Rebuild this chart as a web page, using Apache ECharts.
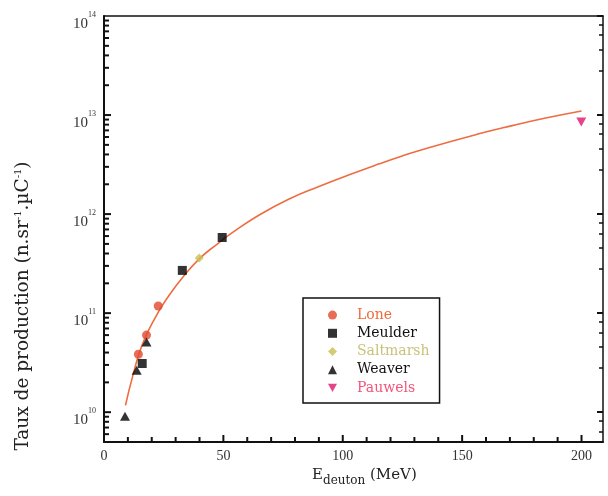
<!DOCTYPE html>
<html><head><meta charset="utf-8">
<script src="https://cdn.jsdelivr.net/npm/echarts@6/dist/echarts.min.js"></script>
<style>html,body{margin:0;padding:0;background:#fff}#c{width:608px;height:496px}</style>
</head><body><div id="c"></div>
<script>
// ---- data ----
const curveE    = [9, 12, 16, 22, 27, 33, 40, 47, 53, 65, 78, 90, 103, 115, 124, 136, 157, 171, 185, 200];
const curveRate = [1.17e10, 2.3e10, 4.8e10, 9.5e10, 1.48e11, 2.3e11, 3.55e11, 4.9e11, 6.3e11, 9.8e11, 1.44e12, 1.9e12, 2.51e12, 3.2e12, 3.8e12, 4.68e12, 6.46e12, 7.82e12, 9.33e12, 1.10e13];
const loneE = [14.4, 17.8, 22.7];
const loneRate = [3.85e10, 6.0e10, 1.18e11];
const meulderE = [16, 32.8, 49.5];
const meulderRate = [3.1e10, 2.7e11, 5.8e11];
const saltE = [39.9];
const saltRate = [3.6e11];
const weaverE = [8.8, 13.7, 17.8];
const weaverRate = [9.1e9, 2.65e10, 5.1e10];
const pauwelsE = [199.9];
const pauwelsRate = [8.5e12];
const xTickLabels = [0, 50, 100, 150, 200];
const yDecades = [10, 11, 12, 13, 14];

const xMin = 0, xMax = 209, yMin = 5e9, yMax = 1e14;
const pair = (xs, ys) => xs.map((x, i) => [x, ys[i]]);

// tick positions for the left / bottom axes: [value, length]
const yTickVals = [];
for (let d = 9; d <= 14; d++) for (let m = 1; m <= 9; m++) { const v = m * Math.pow(10, d); if (v > yMin && v < yMax) yTickVals.push([v, m === 1 ? 7 : 5]); }
const xTickVals = [];
for (let t = 10; t <= 200; t += 10) xTickVals.push([t, t % 50 === 0 ? 7 : 5]);

const serif = '"Liberation Serif", "DejaVu Serif", serif';
const serif2 = '"DejaVu Serif", serif';
const ink = '#111';
const invTri = 'path://M0,0 L10,0 L5,9 Z';

const yLabelFmt = v => {
  const e = Math.round(Math.log10(v));
  if (Math.abs(Math.log10(v) - e) > 1e-6 || yDecades.indexOf(e) < 0) return '';
  return '{b|10}{e|' + e + '}';
};

const chart = echarts.init(document.getElementById('c'), null, {renderer: 'canvas'});
chart.setOption({
  animation: false,
  backgroundColor: '#fff',
  grid: {left: 104, right: 5, top: 16, bottom: 54, containLabel: false},
  xAxis: [{
    type: 'value', min: xMin, max: xMax, interval: 50, position: 'bottom',
    axisLine: {show: true, onZero: false, lineStyle: {color: ink, width: 2}},
    axisTick: {show: false},
    splitLine: {show: false}, minorSplitLine: {show: false},
    axisLabel: {
      show: true, margin: 7, color: '#333', fontFamily: serif, fontSize: 14,
      formatter: v => xTickLabels.indexOf(v) >= 0 ? String(v) : ''
    }
  }, {
    type: 'value', min: xMin, max: xMax, position: 'top',
    axisLine: {show: true, onZero: false, lineStyle: {color: ink, width: 1.5}},
    axisTick: {show: false}, axisLabel: {show: false}, splitLine: {show: false}
  }],
  yAxis: [{
    type: 'log', min: yMin, max: yMax, logBase: 10,
    axisLine: {show: true, onZero: false, lineStyle: {color: ink, width: 2}},
    axisTick: {show: false},
    splitLine: {show: false}, minorSplitLine: {show: false},
    axisLabel: {
      show: true, margin: 8, color: '#333', fontFamily: serif,
      padding: [6, 0, 0, 0],
      formatter: yLabelFmt,
      rich: {
        b: {fontSize: 15, lineHeight: 15, padding: [10, 0, 0, 0], fontFamily: serif, color: '#333'},
        e: {fontSize: 8, lineHeight: 9, padding: [0, 0, 9, 0], fontFamily: serif, color: '#333'}
      }
    }
  }, {
    type: 'log', min: yMin, max: yMax, logBase: 10, position: 'right',
    axisLine: {show: true, onZero: false, lineStyle: {color: ink, width: 1.5}},
    axisTick: {show: true, inside: true, length: 6, lineStyle: {color: ink, width: 2}},
    minorTick: {show: true, length: 4, lineStyle: {color: ink, width: 1.5}},
    axisLabel: {show: false}, splitLine: {show: false}, minorSplitLine: {show: false}
  }],
  legend: {
    orient: 'vertical', left: 303, top: 298,
    padding: [9, 10, 7, 25],
    borderColor: ink, borderWidth: 1.5,
    itemWidth: 9, itemHeight: 9, itemGap: 2,
    textStyle: {fontFamily: serif2, fontSize: 14, lineHeight: 16.2, padding: [0, 0, 0, 15]},
    data: [
      {name: 'Lone', icon: 'circle', textStyle: {color: '#f06a3c'}},
      {name: 'Meulder', icon: 'rect', textStyle: {color: '#111'}},
      {name: 'Saltmarsh', icon: 'diamond', textStyle: {color: '#c9c27a'}},
      {name: 'Weaver', icon: 'triangle', textStyle: {color: '#111'}},
      {name: 'Pauwels', icon: invTri, textStyle: {color: '#f2557a'}}
    ]
  },
  graphic: [{
    type: 'text', left: 312, top: 463, silent: true,
    style: {
      text: '{a|E}{s|deuton}{a| (MeV)}',
      rich: {
        a: {fontFamily: serif2, fontSize: 15, lineHeight: 15, fill: '#222'},
        s: {fontFamily: serif2, fontSize: 12, lineHeight: 12, padding: [12, 0, 0, 0], fill: '#222'}
      }
    }
  }, {
    type: 'text', x: 23, y: 306, rotation: Math.PI / 2, silent: true,
    style: {
      text: '{a|Taux de production (n.sr}{p|-1}{a|.µC}{p|-1}{a|)}',
      align: 'center', verticalAlign: 'middle',
      rich: {
        a: {fontFamily: serif2, fontSize: 18.5, lineHeight: 20, fill: '#222'},
        p: {fontFamily: serif2, fontSize: 10, lineHeight: 11, verticalAlign: 'top', fill: '#222'}
      }
    }
  }],
  series: [{
    name: 'fit', type: 'line', smooth: true, showSymbol: false, symbol: 'none',
    data: pair(curveE, curveRate),
    lineStyle: {color: '#ee6d40', width: 1.6}, z: 2, silent: true
  }, {
    name: 'Lone', type: 'scatter', symbol: 'circle', symbolSize: 9,
    itemStyle: {color: '#e4472e'}, data: pair(loneE, loneRate), z: 3
  }, {
    name: 'Meulder', type: 'scatter', symbol: 'rect', symbolSize: 9,
    itemStyle: {color: '#000'}, data: pair(meulderE, meulderRate), z: 3
  }, {
    name: 'Saltmarsh', type: 'scatter', symbol: 'diamond', symbolSize: 9,
    itemStyle: {color: '#c8bf52'}, data: pair(saltE, saltRate), z: 3
  }, {
    name: 'Weaver', type: 'scatter', symbol: 'triangle', symbolSize: [10, 9],
    itemStyle: {color: '#000'}, data: pair(weaverE, weaverRate), z: 3
  }, {
    name: 'Pauwels', type: 'scatter', symbol: invTri, symbolSize: [10, 9],
    itemStyle: {color: '#e0146a'}, data: pair(pauwelsE, pauwelsRate), z: 3
  }, {
    name: 'yTicks', type: 'custom', silent: true, clip: false, z: 6,
    data: yTickVals.map(t => [xMin, t[0], t[1]]),
    renderItem: (params, api) => {
      const c = api.coord([api.value(0), api.value(1)]);
      const len = api.value(2);
      return {type: 'rect', shape: {x: c[0], y: c[1] - 1, width: len, height: 2}, style: {fill: ink}};
    }
  }, {
    name: 'xTicks', type: 'custom', silent: true, clip: false, z: 6,
    data: xTickVals.map(t => [t[0], yMin, t[1]]),
    renderItem: (params, api) => {
      const c = api.coord([api.value(0), api.value(1)]);
      const len = api.value(2);
      return {type: 'rect', shape: {x: c[0] - 1, y: c[1] - len, width: 2, height: len}, style: {fill: ink}};
    }
  }]
});
</script>
</body></html>
